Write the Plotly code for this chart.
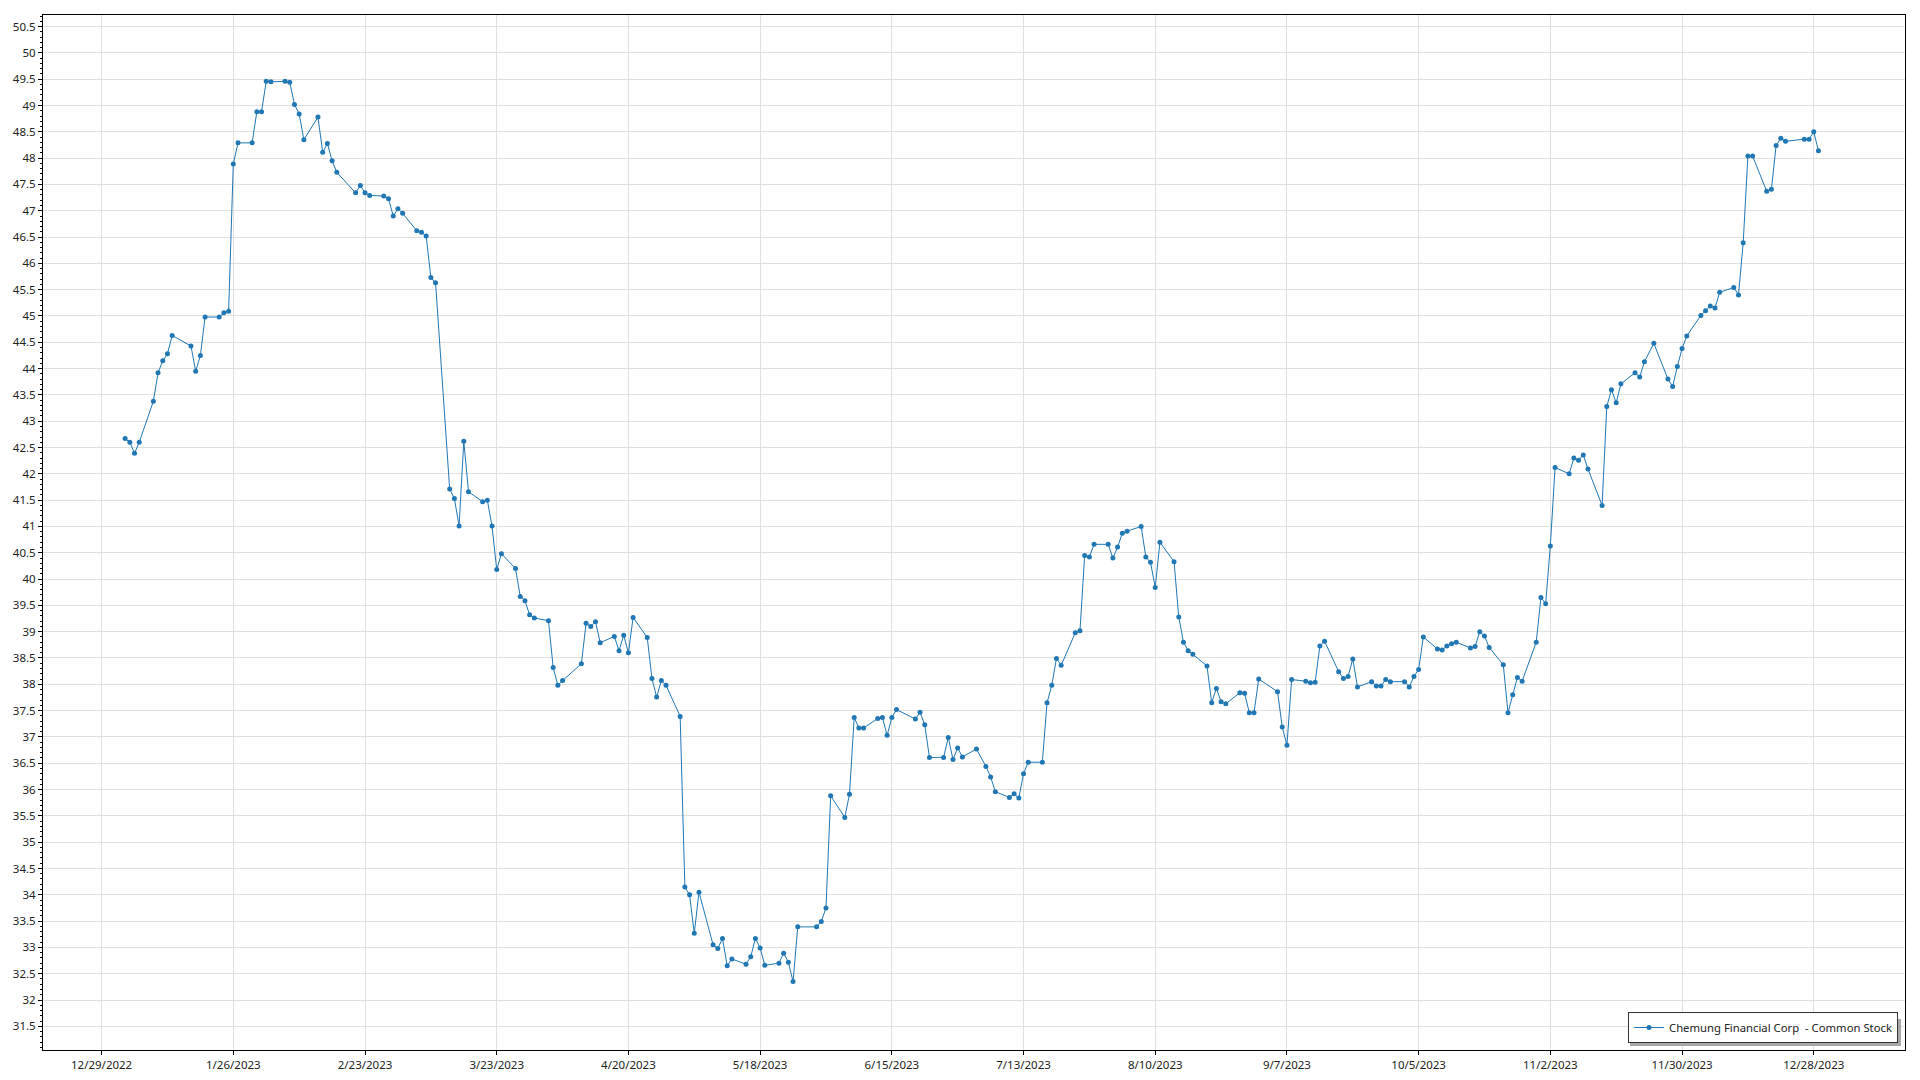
import datetime as dt
import plotly.graph_objects as go

# ---- data ----
dates = [
    "2023-01-03", "2023-01-04", "2023-01-05", "2023-01-06", "2023-01-09", "2023-01-10", "2023-01-11",
    "2023-01-12", "2023-01-13", "2023-01-17", "2023-01-18", "2023-01-19", "2023-01-20", "2023-01-23",
    "2023-01-24", "2023-01-25", "2023-01-26", "2023-01-27", "2023-01-30", "2023-01-31", "2023-02-01",
    "2023-02-02", "2023-02-03", "2023-02-06", "2023-02-07", "2023-02-08", "2023-02-09", "2023-02-10",
    "2023-02-13", "2023-02-14", "2023-02-15", "2023-02-16", "2023-02-17", "2023-02-21", "2023-02-22",
    "2023-02-23", "2023-02-24", "2023-02-27", "2023-02-28", "2023-03-01", "2023-03-02", "2023-03-03",
    "2023-03-06", "2023-03-07", "2023-03-08", "2023-03-09", "2023-03-10", "2023-03-13", "2023-03-14",
    "2023-03-15", "2023-03-16", "2023-03-17", "2023-03-20", "2023-03-21", "2023-03-22", "2023-03-23",
    "2023-03-24", "2023-03-27", "2023-03-28", "2023-03-29", "2023-03-30", "2023-03-31", "2023-04-03",
    "2023-04-04", "2023-04-05", "2023-04-06", "2023-04-10", "2023-04-11", "2023-04-12", "2023-04-13",
    "2023-04-14", "2023-04-17", "2023-04-18", "2023-04-19", "2023-04-20", "2023-04-21", "2023-04-24",
    "2023-04-25", "2023-04-26", "2023-04-27", "2023-04-28", "2023-05-01", "2023-05-02", "2023-05-03",
    "2023-05-04", "2023-05-05", "2023-05-08", "2023-05-09", "2023-05-10", "2023-05-11", "2023-05-12",
    "2023-05-15", "2023-05-16", "2023-05-17", "2023-05-18", "2023-05-19", "2023-05-22", "2023-05-23",
    "2023-05-24", "2023-05-25", "2023-05-26", "2023-05-30", "2023-05-31", "2023-06-01", "2023-06-02",
    "2023-06-05", "2023-06-06", "2023-06-07", "2023-06-08", "2023-06-09", "2023-06-12", "2023-06-13",
    "2023-06-14", "2023-06-15", "2023-06-16", "2023-06-20", "2023-06-21", "2023-06-22", "2023-06-23",
    "2023-06-26", "2023-06-27", "2023-06-28", "2023-06-29", "2023-06-30", "2023-07-03", "2023-07-05",
    "2023-07-06", "2023-07-07", "2023-07-10", "2023-07-11", "2023-07-12", "2023-07-13", "2023-07-14",
    "2023-07-17", "2023-07-18", "2023-07-19", "2023-07-20", "2023-07-21", "2023-07-24", "2023-07-25",
    "2023-07-26", "2023-07-27", "2023-07-28", "2023-07-31", "2023-08-01", "2023-08-02", "2023-08-03",
    "2023-08-04", "2023-08-07", "2023-08-08", "2023-08-09", "2023-08-10", "2023-08-11", "2023-08-14",
    "2023-08-15", "2023-08-16", "2023-08-17", "2023-08-18", "2023-08-21", "2023-08-22", "2023-08-23",
    "2023-08-24", "2023-08-25", "2023-08-28", "2023-08-29", "2023-08-30", "2023-08-31", "2023-09-01",
    "2023-09-05", "2023-09-06", "2023-09-07", "2023-09-08", "2023-09-11", "2023-09-12", "2023-09-13",
    "2023-09-14", "2023-09-15", "2023-09-18", "2023-09-19", "2023-09-20", "2023-09-21", "2023-09-22",
    "2023-09-25", "2023-09-26", "2023-09-27", "2023-09-28", "2023-09-29", "2023-10-02", "2023-10-03",
    "2023-10-04", "2023-10-05", "2023-10-06", "2023-10-09", "2023-10-10", "2023-10-11", "2023-10-12",
    "2023-10-13", "2023-10-16", "2023-10-17", "2023-10-18", "2023-10-19", "2023-10-20", "2023-10-23",
    "2023-10-24", "2023-10-25", "2023-10-26", "2023-10-27", "2023-10-30", "2023-10-31", "2023-11-01",
    "2023-11-02", "2023-11-03", "2023-11-06", "2023-11-07", "2023-11-08", "2023-11-09", "2023-11-10",
    "2023-11-13", "2023-11-14", "2023-11-15", "2023-11-16", "2023-11-17", "2023-11-20", "2023-11-21",
    "2023-11-22", "2023-11-24", "2023-11-27", "2023-11-28", "2023-11-29", "2023-11-30", "2023-12-01",
    "2023-12-04", "2023-12-05", "2023-12-06", "2023-12-07", "2023-12-08", "2023-12-11", "2023-12-12",
    "2023-12-13", "2023-12-14", "2023-12-15", "2023-12-18", "2023-12-19", "2023-12-20", "2023-12-21",
    "2023-12-22", "2023-12-26", "2023-12-27", "2023-12-28", "2023-12-29",
]

prices = [
    42.67, 42.60, 42.39, 42.60, 43.38, 43.92, 44.15,
    44.28, 44.63, 44.43, 43.95, 44.25, 44.98, 44.98,
    45.06, 45.09, 47.89, 48.29, 48.29, 48.88, 48.88,
    49.46, 49.45, 49.46, 49.44, 49.02, 48.84, 48.35,
    48.78, 48.11, 48.28, 47.95, 47.73, 47.34, 47.48,
    47.34, 47.29, 47.28, 47.23, 46.90, 47.04, 46.95,
    46.62, 46.59, 46.52, 45.73, 45.63, 41.71, 41.53,
    41.01, 42.62, 41.66, 41.47, 41.50, 41.01, 40.18,
    40.48, 40.20, 39.67, 39.59, 39.32, 39.26, 39.21,
    38.32, 37.98, 38.07, 38.39, 39.16, 39.10, 39.19,
    38.79, 38.91, 38.64, 38.93, 38.60, 39.27, 38.89,
    38.11, 37.76, 38.07, 37.98, 37.39, 34.15, 34.00,
    33.27, 34.05, 33.05, 32.98, 33.17, 32.65, 32.78,
    32.68, 32.82, 33.17, 32.99, 32.66, 32.70, 32.89,
    32.72, 32.35, 33.39, 33.39, 33.49, 33.75, 35.88,
    35.47, 35.91, 37.37, 37.17, 37.17, 37.35, 37.37,
    37.03, 37.37, 37.52, 37.34, 37.47, 37.23, 36.61,
    36.61, 36.99, 36.57, 36.79, 36.62, 36.77, 36.44,
    36.24, 35.96, 35.85, 35.92, 35.84, 36.30, 36.52,
    36.52, 37.65, 37.98, 38.49, 38.36, 38.98, 39.02,
    40.45, 40.42, 40.66, 40.66, 40.40, 40.61, 40.87,
    40.91, 41.00, 40.42, 40.32, 39.84, 40.70, 40.33,
    39.28, 38.80, 38.64, 38.57, 38.35, 37.65, 37.92,
    37.67, 37.63, 37.84, 37.83, 37.46, 37.46, 38.10,
    37.86, 37.19, 36.84, 38.09, 38.06, 38.03, 38.04,
    38.73, 38.82, 38.24, 38.11, 38.15, 38.48, 37.95,
    38.05, 37.97, 37.97, 38.09, 38.05, 38.05, 37.95,
    38.15, 38.28, 38.90, 38.67, 38.65, 38.73, 38.77,
    38.80, 38.69, 38.72, 39.00, 38.92, 38.70, 38.37,
    37.46, 37.80, 38.13, 38.06, 38.80, 39.65, 39.53,
    40.63, 42.12, 42.00, 42.30, 42.26, 42.36, 42.09,
    41.40, 43.28, 43.60, 43.35, 43.71, 43.92, 43.84,
    44.13, 44.48, 43.80, 43.66, 44.04, 44.38, 44.62,
    45.01, 45.10, 45.19, 45.15, 45.45, 45.54, 45.40,
    46.39, 48.04, 48.04, 47.37, 47.41, 48.24, 48.38,
    48.32, 48.36, 48.36, 48.50, 48.14,
]

series_name = "Chemung Financial Corp \u00a0- Common Stock"

# axis settings
tick_start = dt.datetime(2022, 12, 29)
x_start = tick_start - dt.timedelta(days=12.46)
x_end = tick_start + dt.timedelta(days=383.4)
y_min, y_max = 31.05, 50.72

FONT = "Noto Sans, Open Sans, sans-serif"
GRID = "#e0e0e0"

W, H = 1920, 1080
ML, MR, MT, MB = 43, 15, 15, 30
PW, PH = W - ML - MR, H - MT - MB


def px_x(p):
    return (p - ML) / PW


def px_y(p):
    return (H - MB - p) / PH


fig = go.Figure()
fig.add_trace(go.Scatter(
    x=dates, y=prices, mode="lines+markers", name=series_name,
    line=dict(color="#1f77b4", width=1),
    marker=dict(size=5, color="#1f77b4"),
    showlegend=True,
))

# legend drop shadow (legend box approx. 1627..1898 x 1016..1043 px)
fig.add_shape(
    type="rect", xref="paper", yref="paper", layer="above",
    x0=px_x(1630), x1=px_x(1901), y0=px_y(1046), y1=px_y(1019),
    fillcolor="#a8a8a8", line=dict(width=0),
)

fig.update_layout(
    width=W, height=H,
    margin=dict(l=ML, r=MR, t=MT, b=MB, autoexpand=False),
    paper_bgcolor="white", plot_bgcolor="white",
    font=dict(family=FONT, size=11.5, color="#222222"),
    showlegend=True,
    legend=dict(
        x=px_x(1898), y=px_y(1043), xanchor="right", yanchor="bottom",
        bgcolor="white", bordercolor="#333333", borderwidth=1,
        font=dict(family=FONT, size=11.3, color="#222222"),
    ),
    xaxis=dict(
        type="date", range=[x_start, x_end], automargin=False,
        tick0=tick_start, dtick=28 * 86400000, tickformat="%-m/%-d/%Y",
        showgrid=True, gridcolor=GRID, gridwidth=1,
        showline=True, linecolor="black", linewidth=1, mirror=True,
        ticks="outside", ticklen=4, tickcolor="black",
        zeroline=False,
    ),
    yaxis=dict(
        range=[y_min, y_max], tick0=0, dtick=0.5, automargin=False,
        showgrid=True, gridcolor=GRID, gridwidth=1,
        showline=True, linecolor="black", linewidth=1, mirror=True,
        ticks="outside", ticklen=4, tickcolor="black",
        minor=dict(dtick=0.1, ticks="outside", ticklen=2, tickcolor="black", showgrid=False),
        zeroline=False,
    ),
)

fig.write_html(
    "out.html",
    config={"displayModeBar": False},
    post_script="document.body.style.margin='0px';",
)
